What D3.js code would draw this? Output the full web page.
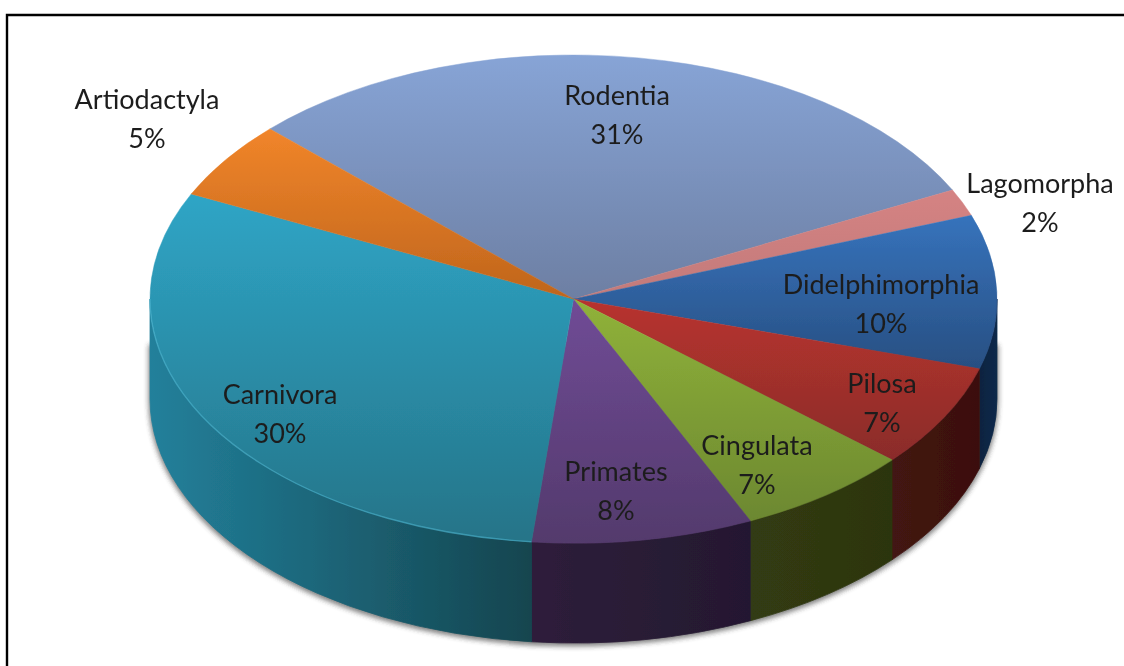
<!DOCTYPE html>
<html><head><meta charset="utf-8">
<script src="https://cdn.jsdelivr.net/npm/d3@7"></script>
<style>html,body{margin:0;padding:0;background:#fff;overflow:hidden}svg{display:block}
text{font-family:Lato,"Open Sans",sans-serif;font-size:27px;fill:#1c1c1c;text-anchor:middle}</style>
</head><body><svg id="c" width="1124" height="666"></svg>
<script>
// Data
const categories = ["Rodentia","Lagomorpha","Didelphimorphia","Pilosa","Cingulata","Primates","Carnivora","Artiodactyla"];
const shares = [30.4,1.8,10.2,6.85,6.7,8.45,30.55,5.2];
const percentLabels = ["31%","2%","10%","7%","7%","8%","30%","5%"];
// Styles
const topLight  = ["#87a4d6","#d58383","#3673bc","#b8332e","#90b23a","#704b96","#2fa5c6","#f1852a"];
const topDark   = ["#6d7fa3","#c27a7a","#284f82","#8a2c2a","#6c8830","#533a6c","#257488","#bf651c"];
const sideLeft  = ["#000","#000","#0d2340","#431412","#323b12","#2e1f3b","#22809b","#000"];
const sideRight = ["#000","#000","#10294a","#3b100e","#2c3510","#241830","#15454f","#000"];
// Layout
const cx=573.5, cy=299, rx=423.5, ry=244, depth=100, startDeg=-45.8;
const labelCenters = {
  Rodentia:[617,96], Lagomorpha:[1040,184], Didelphimorphia:[881,285], Pilosa:[882,384],
  Cingulata:[757,446], Primates:[616,472], Carnivora:[280,395], Artiodactyla:[147,100]
};
const lineGap = 39.5;

const svg = d3.select("#c");
const defs = svg.append("defs");
defs.append("filter").attr("id","soft").attr("x","-5%").attr("y","-5%").attr("width","110%").attr("height","110%")
  .append("feGaussianBlur").attr("stdDeviation",0.45);
defs.append("filter").attr("id","softText").attr("x","-5%").attr("y","-5%").attr("width","110%").attr("height","110%")
  .append("feGaussianBlur").attr("stdDeviation",0.35);
defs.append("filter").attr("id","shadow").attr("x","-5%").attr("y","-10%").attr("width","110%").attr("height","120%")
  .append("feGaussianBlur").attr("stdDeviation",2.5);

const frame = d3.path();
frame.moveTo(7,666); frame.lineTo(7,15); frame.lineTo(1124,15);
svg.append("path").attr("d",frame.toString()).attr("fill","none").attr("stroke","#000").attr("stroke-width",2.4);

const root = svg.append("g").attr("filter","url(#soft)");
const pie = d3.pie().sort(null).startAngle(startDeg*Math.PI/180).endAngle((startDeg+360)*Math.PI/180);
const slices = pie(shares).map((s,i)=>({...s,i,name:categories[i]}));
const px = a => cx + rx*Math.sin(a), py = a => cy - ry*Math.cos(a);

// Ellipse rim between two angles on a given vertical offset
function rim(a0,a1,dy){
  const sweep = a1>a0 ? 1 : 0;
  const large = Math.abs(a1-a0)>Math.PI ? 1 : 0;
  return `A${rx},${ry} 0 ${large} ${sweep} ${px(a1)},${py(a1)+dy}`;
}
const FR0=Math.PI/2, FR1=3*Math.PI/2;

// Ground shadow from the front silhouette
root.append("path")
  .attr("d",`M${px(FR0)},${py(FR0)+45}L${px(FR0)},${py(FR0)+depth}${rim(FR0,FR1,depth)}L${px(FR1)},${py(FR1)+45}Z`)
  .attr("fill","#333").attr("stroke","#333").attr("stroke-width",3).attr("opacity",0.6)
  .attr("transform","translate(0,2)").attr("filter","url(#shadow)");

// Gradients
slices.forEach(s=>{
  const g=defs.append("linearGradient").attr("id","top"+s.i).attr("x1",0).attr("y1",0).attr("x2",0).attr("y2",1);
  g.append("stop").attr("offset",0).attr("stop-color",topLight[s.i]);
  g.append("stop").attr("offset",1).attr("stop-color",topDark[s.i]);
});

// Side walls
const walls = slices.map(s=>({s,a0:Math.max(s.startAngle,FR0),a1:Math.min(s.endAngle,FR1)})).filter(w=>w.a1>w.a0);
walls.forEach(w=>{
  const x0=px(w.a0), x1=px(w.a1);
  const g=defs.append("linearGradient").attr("id","side"+w.s.i).attr("gradientUnits","userSpaceOnUse")
    .attr("x1",Math.min(x0,x1)).attr("y1",0).attr("x2",Math.max(x0,x1)).attr("y2",0);
  g.append("stop").attr("offset",0).attr("stop-color",sideLeft[w.s.i]);
  g.append("stop").attr("offset",1).attr("stop-color",sideRight[w.s.i]);
  root.append("path")
    .attr("d",`M${x0},${py(w.a0)}${rim(w.a0,w.a1,0)}L${x1},${py(w.a1)+depth}${rim(w.a1,w.a0,depth)}Z`)
    .attr("fill",`url(#side${w.s.i})`)
    .attr("stroke",`url(#side${w.s.i})`).attr("stroke-width",0.8);
});

// Top faces
const arc = d3.arc().innerRadius(0).outerRadius(rx);
root.append("g").attr("transform",`translate(${cx},${cy}) scale(1,${ry/rx})`)
  .selectAll("path").data(slices).join("path")
  .attr("d",d=>arc(d)).attr("fill",d=>`url(#top${d.i})`)
  .attr("stroke",d=>`url(#top${d.i})`).attr("stroke-width",0.6);

// Bevel highlight along the front edge
walls.forEach(w=>{
  root.append("path")
    .attr("d",`M${px(w.a0)},${py(w.a0)}${rim(w.a0,w.a1,0)}`)
    .attr("fill","none")
    .attr("stroke",w.s.name==="Carnivora"?"#4fb9d6":d3.color(topDark[w.s.i]).brighter(0.15))
    .attr("stroke-width",1.4).attr("opacity",w.s.name==="Carnivora"?0.55:0.4);
});

// Labels
const labels = svg.append("g").attr("filter","url(#softText)").selectAll("text").data(slices).join("text")
  .attr("transform",d=>`translate(${labelCenters[d.name][0]},${labelCenters[d.name][1]})`);
labels.append("tspan").attr("x",0).attr("dy","0.33em").text(d=>d.name);
labels.append("tspan").attr("x",0).attr("dy",lineGap).text(d=>percentLabels[d.i]);
</script></body></html>
